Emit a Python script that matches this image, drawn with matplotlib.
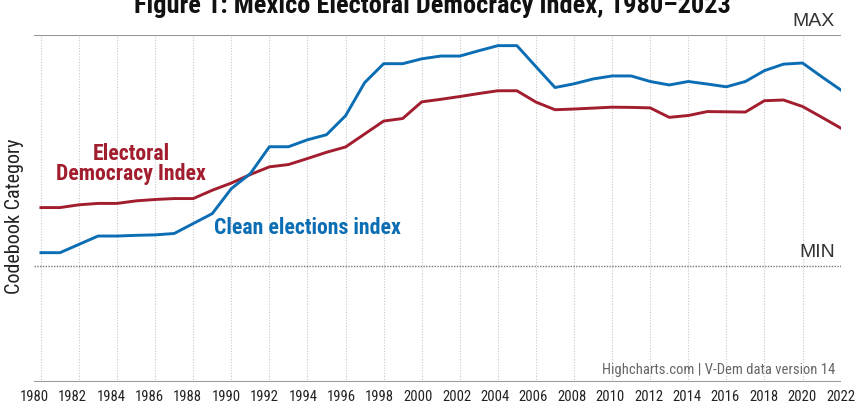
import matplotlib
matplotlib.use('Agg')
from matplotlib import pyplot as plt

years = list(range(1980, 2023))

# Clean elections index (0 = MIN, 1 = MAX)
clean = [0.059, 0.059, 0.095, 0.131, 0.131, 0.134, 0.136, 0.142, 0.185, 0.228,
         0.336, 0.401, 0.517, 0.517, 0.547, 0.569, 0.651, 0.794, 0.876, 0.876,
         0.897, 0.909, 0.909, 0.932, 0.954, 0.954, 0.863, 0.773, 0.789, 0.810,
         0.823, 0.823, 0.799, 0.784, 0.799, 0.788, 0.776, 0.799, 0.846, 0.874,
         0.879, 0.820, 0.763]

# Electoral democracy index
edi = [0.254, 0.254, 0.266, 0.272, 0.272, 0.283, 0.289, 0.293, 0.293, 0.329,
       0.360, 0.397, 0.430, 0.440, 0.466, 0.493, 0.516, 0.572, 0.628, 0.639,
       0.711, 0.722, 0.734, 0.747, 0.759, 0.759, 0.710, 0.677, 0.680, 0.684,
       0.688, 0.687, 0.685, 0.644, 0.652, 0.669, 0.668, 0.667, 0.716, 0.719,
       0.691, 0.645, 0.598]

tick_years = list(range(1980, 2023, 2))

BLUE = '#0b6db3'
RED = '#a21d2e'
NARROW = ['Roboto Condensed', 'Liberation Sans Narrow', 'Roboto', 'DejaVu Sans']
PLAIN = ['Liberation Sans', 'DejaVu Sans']

W, H = 857, 405
AW = 840.6 - 34
fig = plt.figure(figsize=(W / 100, H / 100), dpi=100)
ax = fig.add_axes([34 / W, (H - 382) / H, AW / W, (382 - 35) / H])
ax.set_xlim(1980, 2022)
ax.set_ylim(-0.5, 1)
for s in ax.spines.values():
    s.set_visible(False)

# grid
ax.vlines(tick_years, -0.5, 1, colors='#c8c8c8', linestyles=(0, (1, 1.5)), lw=0.8, zorder=0)
ax.axhline(1, color='#888888', lw=1.3, zorder=1)
ax.axhline(-0.5, color='#999999', lw=1.5, zorder=1)
ax.axhline(0, color='#777777', lw=1.0, ls=(0, (1, 1)), zorder=1)

ax.plot(years, edi, color=RED, lw=2.1, solid_joinstyle='round', zorder=3)
ax.plot(years, clean, color=BLUE, lw=2.1, solid_joinstyle='round', zorder=3)

# x labels (slightly wider spacing than the grid, as in the reference)
ax.set_yticks([])
span = 2022 - 1980
shift = 7 / 19.2
lab_pos = [1980 - shift + (y - 1980) * (span + shift) / span for y in tick_years]
ax.set_xticks(lab_pos)
ax.set_xticklabels([str(y) for y in tick_years], fontsize=10.5, family=NARROW, color='#222222')
ax.tick_params(axis='x', length=0, pad=6)

ax.set_ylabel('Codebook Category', family=NARROW, fontsize=14.5, color='#222222')
ax.yaxis.set_label_coords(-10 / AW, 0.478)

# MAX / MIN markers
ax.annotate('MAX', xy=(1, 1), xycoords=('axes fraction', 'data'), xytext=(-4, 6.7),
            textcoords='offset points', ha='right', va='baseline',
            fontsize=14, color='#333333', family=PLAIN)
ax.annotate('MIN', xy=(1, 0), xycoords=('axes fraction', 'data'), xytext=(-4, 6.7),
            textcoords='offset points', ha='right', va='baseline',
            fontsize=14, color='#333333', family=PLAIN)
ax.text(0.993, 0.022, 'Highcharts.com | V-Dem data version 14', transform=ax.transAxes,
        ha='right', va='baseline', fontsize=10.5, color='#666666', family=NARROW)

# series labels
ax.text(1984.75, 0.461, 'Electoral', ha='center', va='baseline',
        fontsize=15.7, fontweight='bold', color=RED, family=NARROW)
ax.text(1984.75, 0.375, 'Democracy Index', ha='center', va='baseline',
        fontsize=15.7, fontweight='bold', color=RED, family=NARROW)
ax.text(1994.0, 0.138, 'Clean elections index', ha='center', va='baseline',
        fontsize=15.7, fontweight='bold', color=BLUE, family=NARROW)

fig.text(432 / W, 1 - 13.5 / H, 'Figure 1: Mexico Electoral Democracy Index, 1980\u20132023',
         ha='center', va='baseline', fontsize=19, fontweight='bold', color='#111111',
         family=NARROW)

fig.savefig('out.png', dpi=100)
